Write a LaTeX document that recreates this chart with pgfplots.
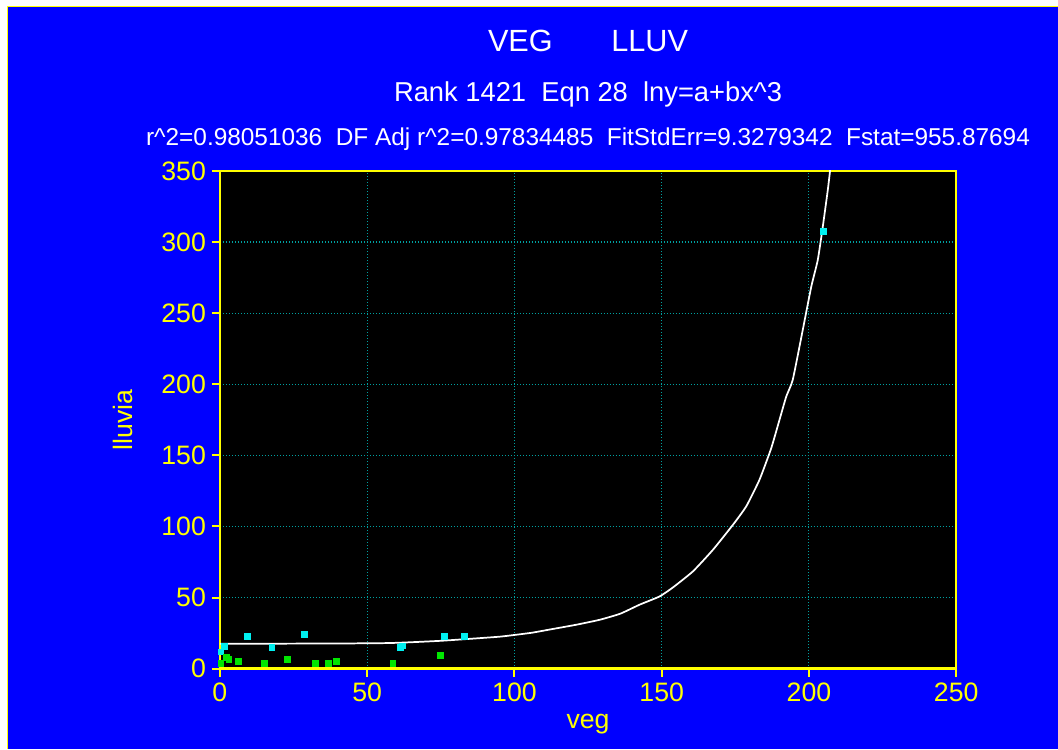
\documentclass[border=0pt]{standalone}
\usepackage{fontspec}
\setmainfont{Liberation Sans}
\usepackage{pgfplots}
\pgfplotsset{compat=1.18}
\definecolor{bgblue}{RGB}{0,0,255}
\definecolor{axyellow}{RGB}{255,255,0}
\definecolor{gridteal}{RGB}{0,160,160}
\definecolor{ptcyan}{RGB}{0,240,240}
\definecolor{ptgreen}{RGB}{0,230,0}

\begin{document}
\begin{tikzpicture}
% page frame
\fill[white] (-165pt,-60pt) rectangle (628.5pt,501.75pt);
\fill[bgblue] (-159pt,-60pt) rectangle (628.5pt,496.5pt);
\draw[axyellow, line width=0.75pt] (-159pt,-60pt) -- (-159pt,496.5pt) -- (628.5pt,496.5pt);

\begin{axis}[
  scale only axis,
  width=552.5pt, height=373.5pt,
  xmin=0, xmax=250, ymin=0, ymax=350,
  xtick={0,50,...,250}, ytick={0,50,...,350},
  axis background/.style={fill=black},
  axis line style={axyellow, line width=1.8pt},
  tick style={axyellow, line width=1.5pt},
  major tick length=6pt,
  tick align=outside,
  tick pos=left,
  grid=major,
  grid style={gridteal, line width=0.8pt, dash pattern=on 0.8pt off 1.45pt},
  ticklabel style={axyellow, font=\fontsize{20}{24}\selectfont},
  yticklabel style={xshift=-1pt},
  xticklabel style={yshift=-1pt},
  /pgf/number format/assume math mode=true,
  xlabel={veg},
  xlabel style={axyellow, font=\fontsize{20}{24}\selectfont,
    at={(axis description cs:0.5,0)}, anchor=base, yshift=-45pt},
]
% fitted curve
\addplot[white, line width=1.3pt, smooth, tension=0.3] coordinates {
  (0,17.6) (20,17.6) (40,17.7) (57,18.0) (65,18.6) (75,19.6) (85,21.0)
  (95,22.5) (100,23.7) (106,25.3) (113,27.9) (121,30.9) (129,34.4)
  (136,38.7) (142.5,45.0) (149.3,50.8) (153.8,57.1) (160.6,68.4)
  (167.4,83.6) (174.2,101.2) (178.7,114.1) (183.2,132.8) (187.2,155.1)
  (190,175) (192.3,191.4) (194.5,203.1) (197.9,238.2) (200.8,268.7)
  (203,287.4) (204.7,310.8) (206.4,336.6) (207.2,350.7)
};
% observations above the fit band
\addplot[only marks, mark=square*, mark size=2.2pt, ptcyan] coordinates {
  (9.4,22.7) (28.6,24.1) (17.6,14.8) (1.5,15.9) (0.3,11.9)
  (61.2,14.8) (61.9,16.1) (76.1,22.7) (83.1,22.7) (205.0,307.6)
};
% observations below the fit band
\addplot[only marks, mark=square*, mark size=2.2pt, ptgreen] coordinates {
  (0.3,4.0) (2.1,8.2) (3.0,6.8) (6.1,5.4) (15.2,4.0) (22.8,6.6)
  (32.4,4.0) (36.8,4.0) (39.5,5.4) (58.7,4.0) (74.7,9.4)
};
\end{axis}

% y-axis label
\node[axyellow, rotate=90, anchor=base, font=\fontsize{20}{24}\selectfont] at (-65.5pt,186.75pt) {lluvia};

% header lines
\node[white, anchor=base, font=\fontsize{23}{27}\selectfont] at (276.25pt,462.75pt) {VEG\hspace{44pt}LLUV};
\node[white, anchor=base, font=\fontsize{20.5}{24}\selectfont] at (276.25pt,425.5pt) {Rank 1421\ \ Eqn 28\ \ lny=a+bx\textasciicircum 3};
\node[white, anchor=base, font=\fontsize{18.3}{22}\selectfont] at (276.25pt,392.5pt) {r\textasciicircum 2=0.98051036\ \ DF Adj r\textasciicircum 2=0.97834485\ \ FitStdErr=9.3279342\ \ Fstat=955.87694};
\end{tikzpicture}
\end{document}
